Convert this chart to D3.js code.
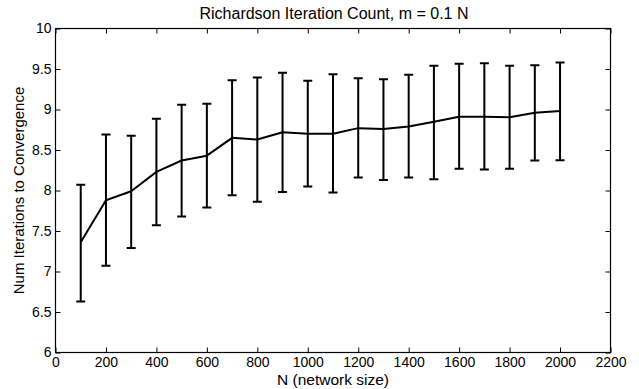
<!DOCTYPE html>
<html>
<head>
<meta charset="utf-8">
<script src="https://cdn.jsdelivr.net/npm/d3@7"></script>
<style>
  body { margin: 0; background: #fff; }
  text { font-family: "Liberation Sans", Arial, sans-serif; fill: #000; }
</style>
</head>
<body>
<div id="chart"></div>
<script>
// network sizes N
const sizes = [100, 200, 300, 400, 500, 600, 700, 800, 900, 1000,
               1100, 1200, 1300, 1400, 1500, 1600, 1700, 1800, 1900, 2000];
// mean iteration count
const means = [7.36, 7.88, 7.99, 8.23, 8.37, 8.43, 8.65, 8.63, 8.72, 8.70,
               8.70, 8.77, 8.76, 8.79, 8.85, 8.91, 8.91, 8.905, 8.96, 8.98];
// error bar ends
const lows  = [6.63, 7.07, 7.29, 7.57, 7.68, 7.79, 7.94, 7.86, 7.98, 8.05,
               7.975, 8.16, 8.13, 8.16, 8.14, 8.27, 8.26, 8.27, 8.37, 8.375];
const highs = [8.07, 8.69, 8.675, 8.885, 9.06, 9.07, 9.36, 9.395, 9.455, 9.355,
               9.435, 9.385, 9.375, 9.43, 9.54, 9.565, 9.57, 9.54, 9.545, 9.58];

const xTicks = d3.range(0, 2201, 200);
const yTicks = [6, 6.5, 7, 7.5, 8, 8.5, 9, 9.5, 10];

const width = 639, height = 389;
const margin = { left: 55.5, right: 28.5, top: 28.5, bottom: 36.5 };

const x = d3.scaleLinear().domain([0, 2200]).range([margin.left, width - margin.right]);
const y = d3.scaleLinear().domain([6, 10]).range([height - margin.bottom, margin.top]);

const data = sizes.map((n, i) => ({ n, mean: means[i], lo: lows[i], hi: highs[i] }));

const svg = d3.select("#chart").append("svg")
  .attr("width", width)
  .attr("height", height);

// axes (MATLAB style: ticks inward, on all four sides)
const tickLen = 5;
svg.append("g")
  .attr("transform", `translate(0,${y(6)})`)
  .call(d3.axisBottom(x).tickValues(xTicks).tickSizeInner(-tickLen).tickSizeOuter(0).tickPadding(5).tickFormat(d3.format("d")))
  .call(g => g.select(".domain").remove());
svg.append("g")
  .attr("transform", `translate(0,${y(10)})`)
  .call(d3.axisTop(x).tickValues(xTicks).tickSizeInner(-tickLen).tickSizeOuter(0).tickFormat(""))
  .call(g => g.select(".domain").remove());
svg.append("g")
  .attr("transform", `translate(${x(0)},0)`)
  .call(d3.axisLeft(y).tickValues(yTicks).tickSizeInner(-tickLen).tickSizeOuter(0).tickPadding(4).tickFormat(d3.format("~g")))
  .call(g => g.select(".domain").remove());
svg.append("g")
  .attr("transform", `translate(${x(2200)},0)`)
  .call(d3.axisRight(y).tickValues(yTicks).tickSizeInner(-tickLen).tickSizeOuter(0).tickFormat(""))
  .call(g => g.select(".domain").remove());

svg.selectAll(".tick text")
  .attr("font-size", 14)
  .attr("font-family", "Liberation Sans, Arial, sans-serif");
svg.selectAll(".tick line").attr("stroke", "#000");

// box
svg.append("rect")
  .attr("x", x(0)).attr("y", y(10))
  .attr("width", x(2200) - x(0)).attr("height", y(6) - y(10))
  .attr("fill", "none").attr("stroke", "#000").attr("stroke-width", 1.2);

// error bars
const cap = 4.5;
const bars = svg.append("g").attr("stroke", "#000").attr("stroke-width", 2).attr("fill", "none");
bars.selectAll("path")
  .data(data)
  .join("path")
  .attr("d", d => {
    const cx = x(d.n), y0 = y(d.lo), y1 = y(d.hi);
    return `M${cx},${y0}V${y1}M${cx - cap},${y1}H${cx + cap}M${cx - cap},${y0}H${cx + cap}`;
  });

// mean line
svg.append("path")
  .datum(data)
  .attr("fill", "none")
  .attr("stroke", "#000")
  .attr("stroke-width", 2)
  .attr("stroke-linejoin", "round")
  .attr("d", d3.line().x(d => x(d.n)).y(d => y(d.mean)));

// title and labels
svg.append("text")
  .attr("x", (x(0) + x(2200)) / 2 + 1)
  .attr("y", 18.5)
  .attr("text-anchor", "middle")
  .attr("font-size", 16)
  .text("Richardson Iteration Count, m = 0.1 N");

svg.append("text")
  .attr("x", (x(0) + x(2200)) / 2)
  .attr("y", 385)
  .attr("text-anchor", "middle")
  .attr("font-size", 15.5)
  .text("N (network size)");

svg.append("text")
  .attr("transform", `translate(24,${(y(6) + y(10)) / 2}) rotate(-90)`)
  .attr("text-anchor", "middle")
  .attr("font-size", 15)
  .text("Num Iterations to Convergence");
</script>
</body>
</html>
